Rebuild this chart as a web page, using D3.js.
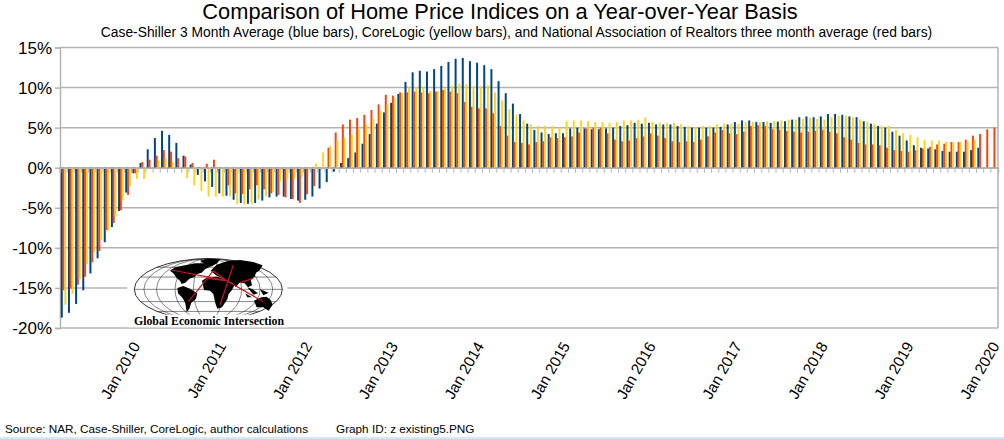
<!DOCTYPE html>
<html><head><meta charset="utf-8">
<script src="https://cdn.jsdelivr.net/npm/d3@7"></script>
<style>html,body{margin:0;padding:0;background:#fff}svg{display:block}text{font-family:"Liberation Sans",Arial,sans-serif;fill:#000}</style>
</head><body><svg id="c" width="1004" height="439"></svg>
<script>
const titleText="Comparison of Home Price Indices on a Year-over-Year Basis";
const subtitleText="Case-Shiller 3 Month Average (blue bars), CoreLogic (yellow bars), and National Association of Realtors three month average (red bars)";
const sourceText="Source: NAR, Case-Shiller, CoreLogic, author calculations";
const graphIdText="Graph ID: z existing5.PNG";
const yTicks=[15,10,5,0,-5,-10,-15,-20];
const xLabels=["Jan 2010","Jan 2011","Jan 2012","Jan 2013","Jan 2014","Jan 2015","Jan 2016","Jan 2017","Jan 2018","Jan 2019","Jan 2020"];
const categories=d3.timeMonths(new Date(2009,2,1),new Date(2020,1,1)).map(d3.timeFormat("%b %Y"));
const caseShiller=[-18.7,-18.1,-17.0,-15.3,-13.2,-11.3,-9.3,-7.4,-5.4,-3.1,-0.7,0.6,2.3,3.7,4.6,4.1,3.1,1.5,0.4,-0.9,-1.7,-2.4,-3.2,-3.5,-4.0,-4.4,-4.5,-4.4,-4.1,-3.7,-3.6,-3.6,
-3.9,-4.1,-4.0,-3.6,-2.6,-1.8,-0.5,0.6,1.2,1.9,3.0,4.2,5.5,6.9,8.1,9.2,10.7,11.9,12.1,12.0,12.3,12.7,13.2,13.6,13.7,13.3,13.1,12.8,12.3,10.8,9.3,8.0,6.7,5.5,
4.7,4.4,4.2,4.3,4.3,4.9,5.0,4.9,4.8,4.8,4.9,5.0,5.2,5.3,5.6,5.5,5.6,5.4,5.4,5.4,5.2,5.1,5.0,5.0,5.0,5.0,5.1,5.4,5.7,5.9,5.9,5.7,5.7,
5.6,5.75,5.8,6.0,6.3,6.4,6.3,6.4,6.7,6.7,6.6,6.4,6.3,5.8,5.5,5.2,5.0,4.5,4.0,3.4,2.8,2.5,2.4,2.3,2.1,2.0,2.0,2.0,2.2,2.5,null,null];
const realtors=[-15.3,-15.1,-14.6,-13.6,-11.8,-10.4,-7.8,-6.9,-5.3,-3.4,-0.7,0.7,1.0,1.5,2.2,2.0,1.2,1.4,0.6,0.1,0.5,1.0,-0.1,-2.2,-3.2,-3.3,-2.7,-2.2,-2.7,-3.2,-3.4,-3.7,
-3.9,-4.4,-3.3,-2.3,-0.2,2.5,4.4,5.4,6.0,6.2,6.6,7.2,7.9,9.1,9.0,9.4,9.4,9.5,9.4,9.3,9.5,9.7,9.5,9.3,8.2,7.6,7.4,7.4,6.8,5.2,4.0,3.2,3.1,2.9,
3.2,3.3,3.8,3.7,3.8,3.9,4.4,4.9,5.0,5.0,4.3,3.5,3.3,3.4,3.7,3.9,4.3,4.0,3.7,3.3,3.2,3.3,3.2,3.5,3.9,4.4,4.7,4.3,4.2,4.5,5.2,5.3,5.2,
4.8,4.75,4.6,4.5,4.4,4.5,4.6,4.75,4.5,4.3,3.8,3.5,3.1,2.9,2.9,2.8,2.5,2.2,2.1,2.0,2.2,2.4,2.6,2.9,3.0,3.2,3.2,3.5,4.0,4.2,4.8,5.0];
const coreLogic=[-17.1,-15.7,-13.9,-12.0,-10.5,-9.0,-7.8,-6.1,-4.1,-2.3,-1.4,-1.4,-0.2,0.9,1.2,0.7,0.1,-1.3,-2.2,-2.9,-3.6,-3.6,-3.6,-3.6,-4.5,-4.6,-4.5,-4.0,-3.6,-3.0,-1.7,-1.5,
-1.4,-1.1,-0.3,0.5,1.9,2.7,3.4,3.7,4.1,4.8,5.4,6.1,7.1,7.9,8.7,9.3,10.0,10.1,10.0,9.6,9.6,9.9,10.2,10.5,10.4,10.2,10.2,10.3,9.4,8.4,7.3,6.6,5.9,5.4,
5.2,5.2,5.2,5.0,5.8,5.9,5.9,5.8,5.7,5.7,5.6,5.7,5.9,5.9,6.0,6.3,5.7,5.6,5.6,5.6,5.4,5.2,5.1,5.2,5.2,5.4,5.5,5.5,5.5,5.7,5.7,5.7,5.8,
5.8,5.9,6.0,6.0,6.1,6.2,6.1,6.0,6.3,6.5,6.5,6.3,6.0,5.75,5.4,5.25,5.2,4.75,4.3,4.1,3.8,3.5,3.4,3.4,3.25,3.2,3.25,3.3,3.5,null,null,null];
const seriesNames=["Case-Shiller","NAR","CoreLogic"];
const seriesValues=[caseShiller,realtors,coreLogic];
const seriesColors=["#004586","#ff420e","#ffd320"];

const svg=d3.select("#c");
const L=60,R=998,T=47.5,B=328;
const y=d3.scaleLinear().domain([-20,15]).range([B,T]);
const x=d3.scaleBand().domain(categories).range([L,R]).paddingInner(0.25).paddingOuter(0.125);
const x1=d3.scaleBand().domain(seriesNames).range([0,x.bandwidth()]);
const GRID="#b3b3b3";

svg.append("rect").attr("x",0).attr("y",437).attr("width",1004).attr("height",2).attr("fill","#d4e8f8");

const yAxis=d3.axisLeft(y).tickValues(yTicks).tickSize(5).tickFormat(d=>d+"%");
const gy=svg.append("g").attr("transform",`translate(${L},0)`).call(yAxis);
gy.select(".domain").attr("stroke",GRID).attr("stroke-width",1.5);
gy.selectAll(".tick line").attr("stroke",GRID).attr("stroke-width",1.5);
gy.selectAll(".tick text").attr("font-size",17).attr("x",-8).attr("dy","0.34em").style("font-family",'"Liberation Sans"').attr("fill","#000");
svg.append("g").selectAll("line").data(yTicks).join("line")
  .attr("x1",L).attr("x2",R).attr("y1",y).attr("y2",y).attr("stroke",GRID).attr("stroke-width",1.5);
svg.append("line").attr("x1",R).attr("x2",R).attr("y1",T).attr("y2",B).attr("stroke",GRID).attr("stroke-width",1.5);

seriesNames.forEach((name,k)=>{
  svg.append("g").selectAll("rect").data(seriesValues[k].map((v,i)=>({v,c:categories[i]})).filter(d=>d.v!==null))
   .join("rect")
   .attr("x",d=>x(d.c)+x1(name)-0.1).attr("width",x1.bandwidth()+0.2)
   .attr("y",d=>Math.min(y(d.v),y(0))).attr("height",d=>Math.abs(y(d.v)-y(0)))
   .attr("fill",seriesColors[k]);
});

const xStep=x.step();
const gx=svg.append("g").attr("transform",`translate(0,${y(0)})`)
  .call(d3.axisBottom(x).tickSize(5).tickFormat(""));
gx.select(".domain").attr("stroke",GRID).attr("stroke-width",1.5);
gx.selectAll(".tick line").attr("stroke",GRID).attr("stroke-width",1).attr("transform",`translate(${-xStep/2},0)`);

svg.append("g").selectAll("text").data(xLabels).join("text")
  .attr("transform",d=>`translate(${x(d)+x.bandwidth()/2-1},342) rotate(-60)`)
  .attr("text-anchor","end").attr("dy","0.5em").attr("font-size",15.3).text(d=>d);

svg.append("text").attr("x",500).attr("y",19).attr("text-anchor","middle").attr("font-size",21.8).text(titleText);
svg.append("text").attr("x",516.5).attr("y",37).attr("text-anchor","middle").attr("font-size",13.83).text(subtitleText);
svg.append("text").attr("x",5).attr("y",433).attr("font-size",11.75).text(sourceText);
svg.append("text").attr("x",336).attr("y",433).attr("font-size",11.75).text(graphIdText);

// logo (decoration, not data)
const logo=svg.append("g").attr("transform","translate(120,250) scale(0.3333)");
logo.append("rect").attr("x",22).attr("y",0).attr("width",480).attr("height",232).attr("fill","#fff");
const cx=265,cy=118,rx=222,ry=92;
const grat=logo.append("g").attr("fill","none").attr("stroke","#333").attr("stroke-width",1.8);
grat.append("ellipse").attr("cx",cx).attr("cy",cy).attr("rx",rx).attr("ry",ry).attr("stroke-width",3);
[0.2,0.45,0.7,0.87].forEach(f=>grat.append("ellipse").attr("cx",cx).attr("cy",cy).attr("rx",rx*f).attr("ry",ry));
[-0.72,-0.4,0,0.4,0.72].forEach(f=>{
  const hw=rx*Math.sqrt(1-f*f);
  grat.append("line").attr("x1",cx-hw).attr("x2",cx+hw).attr("y1",cy+f*ry).attr("y2",cy+f*ry);
});
const land=[
 "M150,62L165,52L195,46L225,40L262,40L270,50L255,58L245,68L232,72L222,82L208,86L196,98L185,102L180,92L170,84L160,70Z",
 "M172,114L190,108L210,116L232,130L228,146L214,158L208,176L200,186L196,160L188,144L174,130Z",
 "M240,32L262,26L300,28L292,40L272,50L256,44Z",
 "M272,62L290,44L320,34L360,30L400,36L428,46L418,62L408,68L404,80L392,88L396,106L384,112L374,100L358,98L348,112L338,100L322,92L306,84L288,76Z",
 "M246,92L262,82L292,80L308,86L326,96L344,104L336,120L326,132L322,148L306,172L292,176L286,160L280,132L270,122L252,120Z",
 "M382,112L398,118L414,130L400,134ZM420,118L446,128L430,136ZM376,130L396,142L382,142Z",
 "M402,152L424,142L440,140L452,150L458,164L446,182L430,172L410,172Z"];
logo.append("g").selectAll("path").data(land).join("path").attr("d",d=>d).attr("fill","#000");
const routes=[[155,60,320,92],[205,155,262,85],[262,85,280,62],[262,85,320,92],[280,62,320,92],[300,165,340,45],[320,92,430,155],[360,98,400,85]];
logo.append("g").selectAll("line").data(routes).join("line")
 .attr("x1",d=>d[0]).attr("y1",d=>d[1]).attr("x2",d=>d[2]).attr("y2",d=>d[3])
 .attr("stroke","#c8141e").attr("stroke-width",3.5);
logo.append("rect").attr("x",22).attr("y",194).attr("width",480).attr("height",36).attr("fill","#fff");
svg.append("text").attr("x",134).attr("y",324.5).attr("font-size",13).attr("font-weight","bold")
 .style("font-family",'"Liberation Serif"').attr("textLength",150).attr("lengthAdjust","spacingAndGlyphs")
 .text("Global Economic Intersection");
</script></body></html>
